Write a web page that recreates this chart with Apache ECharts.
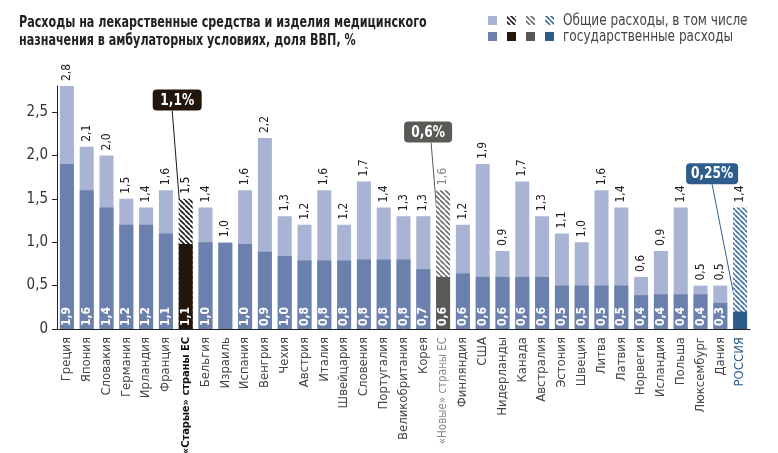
<!DOCTYPE html>
<html>
<head>
<meta charset="utf-8">
<title>Расходы на лекарственные средства</title>
<script src="https://cdn.jsdelivr.net/npm/echarts@6/dist/echarts.min.js"></script>
<style>
html, body { margin: 0; padding: 0; background: #fff; }
#main { width: 778px; height: 453px; }
</style>
</head>
<body>
<div id="main"></div>
<script>
// данные
var categories = ['Греция', 'Япония', 'Словакия', 'Германия', 'Ирландия', 'Франция', '«Старые» страны ЕС',
    'Бельгия', 'Израиль', 'Испания', 'Венгрия', 'Чехия', 'Австрия', 'Италия', 'Швейцария', 'Словения',
    'Португалия', 'Великобритания', 'Корея', '«Новые» страны ЕС', 'Финляндия', 'США', 'Нидерланды',
    'Канада', 'Австралия', 'Эстония', 'Швеция', 'Литва', 'Латвия', 'Норвегия', 'Исландия', 'Польша',
    'Люксембург', 'Дания', 'РОССИЯ'];
// общие расходы
var totalValues = [2.8, 2.1, 2.0, 1.5, 1.4, 1.6, 1.5, 1.4, 1.0, 1.6, 2.2, 1.3, 1.2, 1.6, 1.2, 1.7,
    1.4, 1.3, 1.3, 1.6, 1.2, 1.9, 0.9, 1.7, 1.3, 1.1, 1.0, 1.6, 1.4, 0.6, 0.9, 1.4, 0.5, 0.5, 1.4];
// государственные расходы (высота столбика, как нарисовано)
var govValues = [1.9, 1.6, 1.4, 1.2, 1.2, 1.1, 0.98, 1.0, 0.99, 0.98, 0.89, 0.84, 0.79, 0.79, 0.79, 0.8,
    0.8, 0.8, 0.69, 0.6, 0.64, 0.6, 0.6, 0.6, 0.6, 0.5, 0.5, 0.5, 0.5, 0.39, 0.4, 0.4, 0.4, 0.3, 0.2];
// подписи внутри столбиков
var govLabels = ['1,9', '1,6', '1,4', '1,2', '1,2', '1,1', '1,1', '1,0', '', '1,0', '0,9', '1,0', '0,8', '0,8',
    '0,8', '0,8', '0,8', '0,8', '0,7', '0,6', '0,6', '0,6', '0,6', '0,6', '0,6', '0,5', '0,5', '0,5', '0,5',
    '0,4', '0,4', '0,4', '0,4', '0,3', ''];
var yTicks = [0, 0.5, 1, 1.5, 2, 2.5];

var FONT = "'Liberation Sans Narrow', 'DejaVu Sans Condensed', 'Roboto Condensed', sans-serif";
var LIGHT = '#a9b3d3';
var MID = '#6c80ad';

// штриховка
function hatch(color) {
    var s = 5;
    var c = document.createElement('canvas');
    c.width = s; c.height = s;
    var ctx = c.getContext('2d');
    ctx.fillStyle = '#fff';
    ctx.fillRect(0, 0, s, s);
    ctx.strokeStyle = color;
    ctx.lineWidth = 1.6;
    for (var k = -1; k <= 1; k++) {
        ctx.beginPath();
        ctx.moveTo(k * s, 0);
        ctx.lineTo(k * s + s, s);
        ctx.stroke();
    }
    return { image: c, repeat: 'repeat' };
}

var special = {
    6: { dark: '#22150b', stripe: '#1a1a1a', text: '#111' },
    19: { dark: '#5a5955', stripe: '#6e6e6e', text: '#888' },
    34: { dark: '#2f5d8b', stripe: '#3d6d9e', text: '#222' }
};

function fmt(v) {
    return v === 0 ? '0' : v.toFixed(1).replace('.', ',');
}

var totalData = totalValues.map(function (v, i) {
    var item = { value: v };
    if (special[i]) {
        item.itemStyle = { color: hatch(special[i].stripe) };
        item.label = { color: special[i].text };
    }
    return item;
});
var govData = govValues.map(function (v, i) {
    var item = { value: v };
    if (special[i]) item.itemStyle = { color: special[i].dark };
    return item;
});

var myChart = echarts.init(document.getElementById('main'));

var option = {
    animation: false,
    grid: { left: 57, right: 28, top: 86, bottom: 124, containLabel: false, outerBoundsMode: 'none' },
    xAxis: {
        type: 'category',
        data: categories,
        axisLine: { lineStyle: { color: '#222', width: 1 } },
        axisTick: { length: 5, lineStyle: { color: '#222' } },
        axisLabel: {
            rotate: 90, interval: 0, margin: 8,
            fontFamily: FONT, fontSize: 13, color: '#444',
            formatter: function (v, i) {
                if (i === 6) return '{old|' + v + '}';
                if (i === 19) return '{nw|' + v + '}';
                if (i === 34) return '{ru|' + v + '}';
                return v;
            },
            rich: {
                old: { fontFamily: FONT, fontSize: 11, fontWeight: 'bold', color: '#111' },
                nw: { fontFamily: FONT, fontSize: 11.5, color: '#888' },
                ru: { fontFamily: FONT, fontSize: 13, color: '#2f5d8b' }
            }
        }
    },
    yAxis: {
        type: 'value',
        min: 0, max: 2.8,
        splitLine: { show: false },
        axisLine: { show: true, lineStyle: { color: '#222' } },
        axisTick: { show: true, length: 5, customValues: yTicks, lineStyle: { color: '#222' } },
        axisLabel: {
            customValues: yTicks, margin: 9,
            fontFamily: FONT, fontSize: 15, color: '#333',
            formatter: fmt
        }
    },
    series: [
        {
            name: 'Общие расходы',
            type: 'bar',
            barWidth: 14,
            data: totalData,
            itemStyle: { color: LIGHT },
            label: {
                show: true, position: 'top', rotate: 90, align: 'left', verticalAlign: 'middle',
                distance: 5, fontFamily: FONT, fontSize: 12, color: '#222',
                formatter: function (p) { return fmt(p.value); }
            }
        },
        {
            name: 'Государственные расходы',
            type: 'bar',
            barWidth: 14,
            barGap: '-100%',
            data: govData,
            itemStyle: { color: MID },
            label: {
                show: true, position: 'insideBottom', rotate: 90, align: 'left', verticalAlign: 'middle',
                distance: 3, fontFamily: FONT, fontSize: 12, fontWeight: 'bold', color: '#fff',
                formatter: function (p) { return govLabels[p.dataIndex]; }
            }
        }
    ]
};
myChart.setOption(option);

var graphics = [];

// заголовок (сжат по горизонтали, как узкий шрифт оригинала)
graphics.push({
    type: 'text', x: 19, y: 14, scaleX: 0.775,
    style: {
        text: 'Расходы на лекарственные средства и изделия медицинского\nназначения в амбулаторных условиях, доля ВВП, %',
        font: 'bold 16px ' + FONT, fill: '#222', lineHeight: 18, verticalAlign: 'top'
    }
});

// легенда
var legendRows = [
    { y: 16, text: 'Общие расходы, в том числе', fills: [LIGHT, hatch('#1a1a1a'), hatch('#6e6e6e'), hatch('#3d6d9e')] },
    { y: 32, text: 'государственные расходы', fills: [MID, '#22150b', '#5a5955', '#2f5d8b'] }
];
var legendX = [488, 507, 526, 545];
legendRows.forEach(function (row) {
    row.fills.forEach(function (f, k) {
        graphics.push({ type: 'rect', shape: { x: legendX[k], y: row.y, width: 9, height: 9 }, style: { fill: f } });
    });
    graphics.push({
        type: 'text', x: 563, y: row.y + 4.5, scaleX: 0.84,
        style: { text: row.text, font: '16px ' + FONT, fill: '#444', verticalAlign: 'middle' }
    });
});

// выноски
var callouts = [
    { index: 6, text: '1,1%', color: '#22150b', boxValue: 2.76, dx: -8.5, w: 49, lineDx: -5, endDx: -3 },
    { index: 19, text: '0,6%', color: '#5a5955', boxValue: 2.39, dx: -15, w: 48, lineDx: 3, endDx: -1 },
    { index: 34, text: '0,25%', color: '#2f5d8b', boxValue: 1.91, dx: -28, w: 52, lineDx: 0, endDx: -3 }
];
callouts.forEach(function (c) {
    var bar = myChart.convertToPixel({ seriesIndex: 1 }, [c.index, govValues[c.index]]);
    var box = myChart.convertToPixel({ seriesIndex: 1 }, [c.index, c.boxValue]);
    var cx = box[0] + c.dx, top = box[1], h = 21;
    var x1 = cx + c.lineDx, y1 = top + h, x2 = bar[0] + c.endDx, y2 = bar[1];
    var dx = x2 - x1, dy = y2 - y1, len = Math.sqrt(dx * dx + dy * dy);
    var ux = dx / len, uy = dy / len;
    var bx = x2 - ux * 8, by = y2 - uy * 8;
    graphics.push({ type: 'line', shape: { x1: x1, y1: y1, x2: bx, y2: by }, style: { stroke: c.color, lineWidth: 1 } });
    graphics.push({
        type: 'polygon',
        shape: { points: [[x2, y2], [bx - uy * 2.5, by + ux * 2.5], [bx + uy * 2.5, by - ux * 2.5]] },
        style: { fill: c.color }
    });
    graphics.push({ type: 'rect', shape: { x: cx - c.w / 2, y: top, width: c.w, height: h, r: 4 }, style: { fill: c.color } });
    graphics.push({
        type: 'text', x: cx, y: top + h / 2 + 0.5, scaleX: 0.85,
        style: { text: c.text, font: 'bold 16px ' + FONT, fill: '#fff', align: 'center', verticalAlign: 'middle' }
    });
});
myChart.setOption({ graphic: graphics });
</script>
</body>
</html>
